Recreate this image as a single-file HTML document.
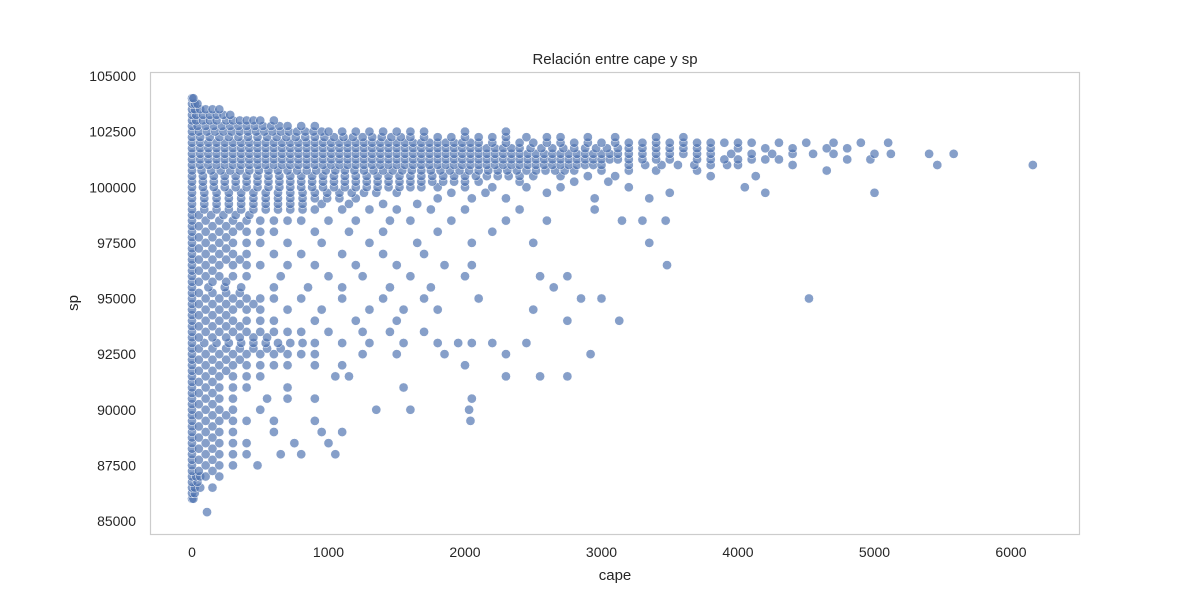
<!DOCTYPE html>
<html><head><meta charset="utf-8"><style>
body{margin:0;background:#fff;font-family:"Liberation Sans",sans-serif}
svg text{font-family:"Liberation Sans",sans-serif;fill:#262626}
</style></head><body>
<svg id="chart" width="1200" height="600">
<text x="615" y="64" text-anchor="middle" font-size="15">Relación entre cape y sp</text>
<g id="ticks"></g><g id="pts"></g>
<rect x="150.5" y="72.5" width="929" height="462" fill="none" stroke="#cccccc" stroke-width="1.2"/>
<text x="615" y="580" text-anchor="middle" font-size="15">cape</text>
<text x="0" y="0" transform="translate(78,303) rotate(-90)" text-anchor="middle" font-size="15">sp</text>
</svg>
<script>
const xTicks=[0,1000,2000,3000,4000,5000,6000];
const yTicks=[85000,87500,90000,92500,95000,97500,100000,102500,105000];
const rows={
104000:"0 10",
103750:"0 20 40",
103500:"0 20 60 100 150 200",
103250:"0 30 80 130 180 230 280",
103000:"0 30 80 130 180 250 300 350 400 450 500 600",
102750:"0 40 100 160 220 280 340 400 460 520 580 640 700 800 900",
102500:"0 50 110 170 230 290 350 410 470 530 590 650 710 770 830 890 950 1000 1100 1200 1300 1400 1500 1600 1700 2000 2300",
102250:"0 60 130 200 270 340 410 480 550 620 690 760 830 900 970 1040 1110 1180 1250 1320 1390 1460 1530 1600 1700 1800 1900 2000 2100 2200 2300 2450 2600 2700 2900 3100 3400 3600",
102000:"0 60 120 180 240 300 360 420 480 540 600 660 720 780 840 900 960 1020 1080 1140 1200 1260 1320 1380 1440 1500 1560 1620 1680 1740 1800 1860 1920 1980 2040 2100 2200 2300 2400 2500 2600 2700 2800 2900 3000 3100 3200 3300 3400 3500 3600 3700 3800 3900 4000 4100 4300 4500 4700 4900 5100",
101750:"0 60 120 180 240 300 360 420 480 540 600 660 720 780 840 900 960 1020 1080 1140 1200 1260 1320 1380 1440 1500 1560 1620 1680 1740 1800 1860 1920 1980 2040 2100 2160 2220 2280 2340 2400 2480 2560 2640 2720 2800 2880 2960 3040 3120 3200 3300 3400 3500 3600 3700 3800 4000 4200 4400 4650 4800",
101500:"0 60 120 180 240 300 360 420 480 540 600 660 720 780 840 900 960 1020 1080 1140 1200 1260 1320 1380 1440 1500 1560 1620 1680 1740 1800 1860 1920 1980 2040 2100 2160 2220 2280 2340 2400 2460 2520 2580 2640 2700 2760 2820 2880 2940 3000 3060 3120 3200 3300 3400 3500 3600 3700 3800 3950 4100 4250 4400 4550 4700 5000 5120 5400 5580",
101250:"0 60 120 180 240 300 360 420 480 540 600 660 720 780 840 900 960 1020 1080 1140 1200 1260 1320 1380 1440 1500 1560 1620 1680 1740 1800 1860 1920 1980 2040 2100 2160 2220 2280 2340 2400 2460 2520 2580 2640 2700 2760 2820 2880 2940 3000 3060 3120 3200 3300 3400 3500 3700 3800 3900 4000 4100 4200 4300 4800 4970",
101000:"0 60 120 180 240 300 360 420 480 540 600 660 720 780 840 900 960 1020 1080 1140 1200 1260 1320 1380 1440 1500 1560 1620 1680 1740 1800 1860 1920 1980 2040 2100 2160 2220 2280 2340 2400 2460 2520 2580 2640 2700 2760 2820 2880 2940 3000 3200 3320 3440 3560 3680 3800 3920 4000 4400 5460 6160",
100750:"0 70 140 210 280 350 420 490 560 630 700 770 840 910 980 1050 1120 1190 1260 1330 1400 1470 1540 1610 1680 1750 1820 1890 1960 2030 2100 2170 2240 2310 2380 2450 2520 2590 2660 2730 2800 3000 3200 3400 3700 4650",
100500:"0 80 160 240 320 400 480 560 640 720 800 880 960 1040 1120 1200 1280 1360 1440 1520 1600 1680 1760 1840 1920 2000 2080 2160 2240 2320 2400 2500 2700 2900 3100 3800 4130",
100250:"0 80 160 240 320 400 480 560 640 720 800 880 960 1040 1120 1200 1280 1360 1440 1520 1600 1680 1760 1840 1920 2000 2100 2400 2800 3050",
100000:"0 80 160 240 320 400 480 560 640 720 800 880 960 1040 1120 1200 1280 1360 1440 1520 1600 1680 1800 2000 2200 2450 2700 3200 4050",
99750:"0 90 180 270 360 450 540 630 720 810 900 990 1080 1170 1260 1350 1500 1900 2150 2600 3500 4200 5000",
99500:"0 90 180 270 360 450 540 630 720 810 900 990 1080 1200 1800 2050 2300 2950 3350",
99250:"0 90 180 270 360 450 540 630 720 810 950 1150 1400 1650",
99000:"0 90 180 270 360 450 540 630 720 810 900 1100 1300 1500 1750 2000 2400 2950",
98750:"0 50 140 230 320 420",
98500:"0 100 200 300 400 500 600 700 800 1000 1200 1450 1600 1900 2300 2600 3150 3300 3470",
98250:"0 50 150 250 350",
98000:"0 100 200 300 400 500 600 900 1150 1400 1800 2200",
97750:"0 50 150 250",
97500:"0 100 200 300 400 500 700 950 1300 1650 2050 2500 3350",
97250:"0 50 150 250",
97000:"0 100 200 300 400 600 800 1100 1400 1700",
96750:"0 50 150 250 350",
96500:"0 100 200 300 400 500 700 900 1200 1500 1850 2050 3480",
96250:"0 50 150",
96000:"0 100 200 300 400 650 1000 1250 1600 2000 2550 2750",
95750:"0 50 150 250",
95500:"0 120 240 360 600 850 1100 1450 1750 2650",
95250:"0 50 150 250 350",
95000:"0 100 200 300 400 500 600 800 1100 1400 1700 2100 2850 3000 4520",
94750:"0 50 150 250 350 450",
94500:"0 100 200 300 400 500 700 950 1300 1550 1800 2500",
94250:"0 50 150 250",
94000:"0 100 200 300 400 500 600 900 1200 1500 2750 3130",
93750:"0 50 150 250 350",
93500:"0 100 200 300 400 500 600 700 800 1000 1250 1450 1700",
93250:"0 50 150 250 350 450 550",
93000:"0 90 180 270 360 450 540 630 720 810 900 1100 1300 1550 1800 1950 2050 2200 2450",
92750:"0 50 150 250 350 450 550 650",
92500:"0 100 200 300 400 500 600 700 800 900 1250 1500 1850 2300 2920",
92250:"0 50 150 250 350",
92000:"0 100 200 300 400 500 600 700 900 1100 2000",
91750:"0 50 150 250",
91500:"0 100 200 300 400 500 1050 1150 2300 2550 2750",
91250:"0 50 150",
91000:"0 100 200 300 400 700 1550",
90750:"0 50 150",
90500:"0 100 200 300 550 700 900 2050",
90250:"0 50 150",
90000:"0 100 200 300 500 1350 1600 2030",
89750:"0 50 150 250",
89500:"0 100 200 300 400 600 900 2040",
89250:"0 50 150",
89000:"0 100 200 300 600 950 1100",
88750:"0 50 150",
88500:"0 100 200 300 400 750 1000",
88250:"0 50 150",
88000:"0 100 200 300 400 650 800 1050",
87750:"0 50 150",
87500:"0 100 200 300 480",
87250:"0 50 150",
87000:"0 30 60 100 200",
86750:"0 40",
86500:"0 20 60 150",
86250:"0 20",
86000:"0 10",
85400:"110"
};
const X=v=>192+v*(1011-192)/6000;
const Y=v=>521-(v-85000)*(521-76)/20000;
const NS="http://www.w3.org/2000/svg";
const tg=document.getElementById('ticks'),pg=document.getElementById('pts');
xTicks.forEach(t=>{const e=document.createElementNS(NS,'text');e.setAttribute('x',X(t));e.setAttribute('y',557);e.setAttribute('text-anchor','middle');e.setAttribute('font-size','14');e.textContent=t;


tg.appendChild(e);});
yTicks.forEach(t=>{const e=document.createElementNS(NS,'text');e.setAttribute('x',136);e.setAttribute('y',Y(t)+5);e.setAttribute('text-anchor','end');e.setAttribute('font-size','14');e.textContent=t;


tg.appendChild(e);});
Object.keys(rows).forEach(sp=>{rows[sp].split(' ').forEach(c=>{const e=document.createElementNS(NS,'circle');e.setAttribute('cx',X(+c));e.setAttribute('cy',Y(+sp));e.setAttribute('r',4.6);e.setAttribute('fill','rgba(76,114,176,0.68)');e.setAttribute('stroke','#fff');e.setAttribute('stroke-width','0.5');


pg.appendChild(e);});});
</script>
</body></html>
